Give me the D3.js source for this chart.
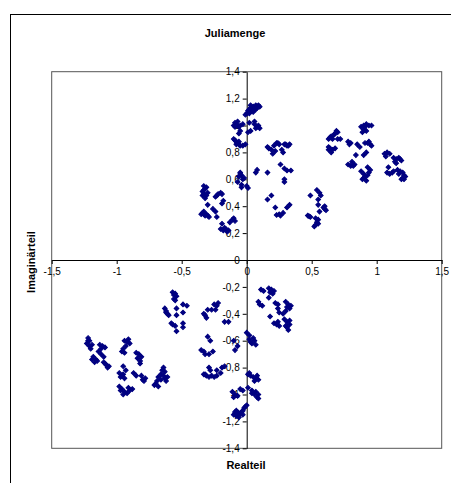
<!DOCTYPE html>
<html>
<head>
<meta charset="utf-8">
<script src="https://cdn.jsdelivr.net/npm/d3@7"></script>
<style>
  body { margin: 0; background: #fff; }
  text { font-family: 'Liberation Sans', Arial, sans-serif; }
</style>
</head>
<body>
<svg id="chart" width="451" height="483"></svg>
<script>
// Points, [Realteil, Imaginärteil]
var upperNearAxis = [
  [0.00,1.09],[0.01,1.11],[0.02,1.12],[0.03,1.13],[0.05,1.14],[0.07,1.15],[0.09,1.15],[0.04,1.11],[0.06,1.12],[0.08,1.13],[0.02,1.09],[0.05,1.10],[0.10,1.14],[-0.01,1.08],[0.03,1.15],[0.07,1.12],
  [-0.08,1.01],[-0.09,1.02],[-0.07,1.00],[-0.10,1.00],[-0.06,0.99],[-0.05,1.00],[-0.03,1.01],[-0.09,0.99],[-0.07,1.03],
  [0.02,1.02],[0.06,1.01],[0.08,0.99],[0.10,0.98],[0.09,1.00],[0.06,1.03],[0.07,0.98],
  [0.01,0.95],[0.03,0.96],[-0.06,0.94],[-0.05,0.96],
  [-0.09,0.89],[-0.08,0.88],[-0.07,0.87],[-0.06,0.86],[-0.05,0.85],[-0.03,0.85],[-0.01,0.86],[-0.08,0.86],[-0.10,0.90],[-0.06,0.88],
  [-0.05,0.64],[-0.04,0.63],[-0.06,0.62],[-0.03,0.60],[-0.07,0.58],[-0.04,0.56],[0.00,0.55],[-0.02,0.61],[-0.05,0.65],[0.01,0.535],[-0.04,0.54]
];
var upperLeft = [
  [-0.33,0.55],[-0.32,0.53],[-0.34,0.51],[-0.33,0.49],[-0.31,0.48],[-0.32,0.46],[-0.34,0.48],[-0.31,0.54],[-0.30,0.50],[-0.33,0.52],
  [-0.24,0.47],[-0.22,0.49],[-0.20,0.50],[-0.19,0.49],[-0.23,0.48],
  [-0.19,0.42],[-0.26,0.38],[-0.30,0.41],[-0.18,0.44],
  [-0.34,0.35],[-0.33,0.34],[-0.32,0.33],[-0.31,0.34],[-0.30,0.33],[-0.33,0.36],[-0.29,0.32],[-0.35,0.34],
  [-0.24,0.36],[-0.23,0.32],
  [-0.19,0.27],[-0.13,0.28],[-0.11,0.30],[-0.09,0.29],[-0.10,0.31],
  [-0.20,0.23],[-0.18,0.22],[-0.16,0.23],[-0.14,0.22],[-0.17,0.24],[-0.15,0.21]
];
var upperMiddle = [
  [0.24,0.87],[0.25,0.86],[0.29,0.86],[0.31,0.85],[0.30,0.86],[0.32,0.85],[0.33,0.86],[0.23,0.87],
  [0.17,0.83],[0.19,0.82],[0.20,0.79],[0.22,0.81],[0.27,0.82],[0.28,0.80],[0.21,0.85],[0.16,0.84],
  [0.07,0.65],[0.08,0.67],[0.16,0.65],
  [0.26,0.71],[0.29,0.68],[0.31,0.665],[0.34,0.665],[0.29,0.60],[0.29,0.58],
  [0.19,0.48],[0.16,0.45],[0.22,0.39],[0.23,0.335],[0.26,0.33],[0.28,0.35],[0.31,0.39],[0.33,0.41],[0.25,0.34]
];
var upperRight = [
  [0.49,0.48],[0.54,0.52],[0.57,0.48],[0.55,0.45],[0.55,0.41],[0.59,0.39],[0.60,0.38],[0.61,0.37],[0.60,0.40],[0.56,0.36],
  [0.47,0.33],[0.48,0.325],[0.49,0.32],[0.53,0.31],[0.55,0.30],[0.54,0.28],[0.53,0.26],[0.52,0.25],[0.55,0.27],[0.56,0.50],
  [0.69,0.96],[0.70,0.95],[0.68,0.94],[0.65,0.92],[0.64,0.91],[0.63,0.90],[0.66,0.90],[0.70,0.90],[0.72,0.90],[0.67,0.93],
  [0.63,0.84],[0.64,0.83],[0.66,0.82],[0.68,0.83],[0.65,0.80],[0.63,0.82],
  [0.88,0.99],[0.90,1.00],[0.92,1.01],[0.94,1.00],[0.96,1.00],[0.90,0.97],[0.92,0.96],[0.89,0.95],[0.91,0.99],
  [0.78,0.88],[0.80,0.87],[0.79,0.86],[0.85,0.86],[0.87,0.84],[0.91,0.87],[0.93,0.87],[0.95,0.86],[0.96,0.85],[0.94,0.88],
  [0.90,0.78],[0.92,0.80],[0.84,0.78],
  [0.78,0.71],[0.80,0.70],[0.82,0.70],[0.83,0.71],[0.81,0.73],
  [0.93,0.69],[0.88,0.66],[0.90,0.64],[0.91,0.62],[0.93,0.63],[0.94,0.65],[0.95,0.67],[0.89,0.60],[0.92,0.59],[0.90,0.61],
  [1.06,0.79],[1.08,0.80],[1.10,0.79],[1.07,0.77],[1.13,0.76],[1.15,0.75],[1.18,0.75],[1.19,0.74],[1.15,0.72],[1.14,0.73],[1.17,0.76],
  [1.09,0.69],[1.08,0.65],[1.10,0.64],[1.12,0.65],[1.13,0.66],
  [1.16,0.67],[1.18,0.66],[1.20,0.65],[1.21,0.63],[1.20,0.61],[1.19,0.60],[1.22,0.62],[1.17,0.64],[1.21,0.60]
];
var lowerNearAxis = [
  [-0.10,-1.15],[-0.08,-1.16],[-0.06,-1.15],[-0.04,-1.13],[-0.03,-1.12],[-0.02,-1.10],[-0.01,-1.09],[-0.07,-1.13],[-0.05,-1.14],[-0.09,-1.13],[-0.06,-1.17],[0.00,-1.08],[-0.08,-1.12],[-0.03,-1.15],
  [-0.11,-0.98],[-0.09,-1.00],[-0.07,-1.01],[-0.10,-1.02],[-0.05,-0.96],[-0.03,-0.97],
  [0.04,-0.99],[0.06,-1.00],[0.08,-1.02],[0.09,-1.00],[0.07,-0.98],[0.01,-0.95],[0.04,-0.97],[0.09,-1.03],
  [0.01,-0.85],[0.03,-0.86],[0.05,-0.87],[0.07,-0.88],[0.09,-0.89],[0.06,-0.90],[0.08,-0.86],[0.02,-0.84],
  [0.00,-0.54],[0.02,-0.56],[0.05,-0.58],[0.06,-0.60],[0.04,-0.62],[0.07,-0.63],[0.03,-0.61],[0.02,-0.59],
  [-0.07,-0.64],[-0.09,-0.67],[-0.10,-0.60]
];
var lowerMiddle = [
  [-0.25,-0.33],[-0.23,-0.34],[-0.22,-0.32],[-0.32,-0.41],[-0.30,-0.37],[-0.27,-0.37],[-0.24,-0.37],[-0.31,-0.43],[-0.33,-0.40],
  [-0.17,-0.46],[-0.14,-0.46],
  [-0.30,-0.57],[-0.28,-0.60],[-0.35,-0.67],[-0.33,-0.68],[-0.32,-0.70],[-0.29,-0.70],[-0.26,-0.68],
  [-0.29,-0.80],[-0.28,-0.82],[-0.33,-0.85],[-0.31,-0.86],[-0.29,-0.87],[-0.27,-0.86],[-0.25,-0.87],[-0.23,-0.86],[-0.23,-0.82],[-0.20,-0.84],[-0.19,-0.80],[-0.17,-0.79],[-0.32,-0.85]
];
var lowerLeft = [
  [-0.57,-0.24],[-0.55,-0.25],[-0.54,-0.27],[-0.55,-0.30],[-0.56,-0.29],[-0.56,-0.26],[-0.49,-0.33],[-0.46,-0.34],[-0.63,-0.36],[-0.62,-0.38],[-0.61,-0.40],[-0.60,-0.41],[-0.62,-0.39],[-0.54,-0.36],[-0.54,-0.41],[-0.49,-0.39],[-0.58,-0.47],[-0.55,-0.49],[-0.54,-0.53],[-0.49,-0.50],[-0.49,-0.47],[-0.57,-0.48],
  [-0.64,-0.80],[-0.63,-0.83],[-0.64,-0.86],[-0.66,-0.85],[-0.68,-0.87],[-0.66,-0.89],[-0.69,-0.90],[-0.70,-0.92],[-0.68,-0.94],[-0.71,-0.93],[-0.63,-0.88],[-0.61,-0.87],[-0.62,-0.90],[-0.65,-0.82],
  [-0.94,-0.60],[-0.92,-0.61],[-0.90,-0.62],[-0.93,-0.64],[-0.95,-0.66],[-0.96,-0.68],[-0.94,-0.69],[-0.91,-0.59],
  [-0.85,-0.69],[-0.83,-0.70],[-0.81,-0.72],[-0.82,-0.75],[-0.84,-0.73],[-0.82,-0.77],
  [-0.95,-0.79],[-0.93,-0.82],[-0.98,-0.84],[-0.96,-0.86],[-0.94,-0.88],[-0.97,-0.87],[-0.95,-0.85],[-0.87,-0.84],[-0.85,-0.86],[-0.81,-0.86],[-0.80,-0.89],[-0.78,-0.88],[-0.79,-0.90],
  [-0.98,-0.94],[-0.96,-0.96],[-0.94,-0.98],[-0.92,-0.99],[-0.90,-0.97],[-0.88,-0.96],[-0.95,-1.00],[-0.91,-0.95],[-0.97,-0.97],
  [-1.22,-0.58],[-1.21,-0.60],[-1.23,-0.62],[-1.21,-0.64],[-1.19,-0.63],[-1.20,-0.66],[-1.22,-0.60],[-1.13,-0.63],[-1.11,-0.64],[-1.09,-0.65],[-1.12,-0.66],[-1.14,-0.68],[-1.12,-0.70],[-1.10,-0.72],
  [-1.18,-0.72],[-1.16,-0.74],[-1.17,-0.76],[-1.15,-0.75],[-1.19,-0.74],[-1.10,-0.76],[-1.08,-0.78],[-1.06,-0.79],[-1.07,-0.80],[-1.09,-0.77]
];
var lowerRight = [
  [0.17,-0.21],[0.19,-0.22],[0.21,-0.23],[0.20,-0.25],[0.18,-0.24],[0.11,-0.22],[0.13,-0.23],[0.09,-0.31],[0.10,-0.33],[0.12,-0.34],[0.17,-0.28],
  [0.22,-0.32],[0.24,-0.33],[0.24,-0.36],[0.18,-0.42],[0.25,-0.39],[0.21,-0.47],[0.23,-0.48],[0.25,-0.49],[0.24,-0.46],
  [0.30,-0.31],[0.32,-0.33],[0.34,-0.34],[0.33,-0.36],[0.31,-0.35],[0.28,-0.40],[0.30,-0.38],[0.29,-0.44],[0.31,-0.46],[0.33,-0.48],[0.31,-0.50],[0.32,-0.52],[0.30,-0.49],[0.33,-0.45]
];

var xTicks = [-1.5, -1, -0.5, 0, 0.5, 1, 1.5];
var yTicks = [-1.4, -1.2, -1, -0.8, -0.6, -0.4, -0.2, 0, 0.2, 0.4, 0.6, 0.8, 1, 1.2, 1.4];

var svg = d3.select('#chart');
var plotLeft = 51.7, plotRight = 441.7, plotTop = 71.7, plotBottom = 448.3;

// comma as decimal separator, plain hyphen for minus (like Excel de)
var fmt = function(v) { return String(+v.toFixed(2)).replace('.', ','); };

// outer chart frame (runs off the right/bottom edge)
svg.append('rect')
  .attr('x', 10.5).attr('y', 14.5)
  .attr('width', 460).attr('height', 480)
  .attr('fill', '#fff')
  .attr('stroke', '#000');

var x = d3.scaleLinear().domain([-1.5, 1.5]).range([plotLeft, plotRight]);
var y = d3.scaleLinear().domain([-1.4, 1.4]).range([plotBottom, plotTop]);

// plot area border
svg.append('rect')
  .attr('x', plotLeft).attr('y', plotTop)
  .attr('width', plotRight - plotLeft).attr('height', plotBottom - plotTop)
  .attr('fill', 'none')
  .attr('stroke', '#555');

// axes through the origin
var xAxis = svg.append('g')
  .attr('transform', 'translate(0,' + y(0) + ')')
  .call(d3.axisBottom(x).tickValues(xTicks).tickFormat(fmt).tickSize(4).tickSizeOuter(0));
var yAxis = svg.append('g')
  .attr('transform', 'translate(' + x(0) + ',0)')
  .call(d3.axisLeft(y).tickValues(yTicks).tickFormat(fmt).tickSize(4).tickSizeOuter(0));

[xAxis, yAxis].forEach(function(a) {
  a.selectAll('text')
    .style('font-family', "'Liberation Sans', Arial, sans-serif")
    .style('font-size', '10px')
    .attr('fill', '#000');
  a.selectAll('line').attr('stroke', '#000');
  a.select('.domain').attr('stroke', '#000');
});
xAxis.selectAll('text').attr('y', 8);
yAxis.selectAll('text').attr('x', -7);

// points
var allPoints = [].concat(upperNearAxis, upperLeft, upperMiddle, upperRight,
                          lowerNearAxis, lowerMiddle, lowerLeft, lowerRight);
var marker = d3.symbol().type(d3.symbolSquare).size(11);

svg.append('g').selectAll('path')
  .data(allPoints)
  .enter()
  .append('path')
  .attr('d', marker)
  .attr('transform', function(d) { return 'translate(' + x(d[0]) + ',' + y(d[1]) + ') rotate(45)'; })
  .attr('fill', '#000080')
  .attr('stroke', '#000080')
  .attr('stroke-width', 1);

// titles
svg.append('text')
  .attr('x', 235).attr('y', 37)
  .attr('text-anchor', 'middle')
  .style('font-size', '11px')
  .style('font-weight', 'bold')
  .text('Juliamenge');

svg.append('text')
  .attr('x', 246).attr('y', 469)
  .attr('text-anchor', 'middle')
  .style('font-size', '11px')
  .style('font-weight', 'bold')
  .text('Realteil');

svg.append('text')
  .attr('transform', 'translate(35,262) rotate(-90)')
  .attr('text-anchor', 'middle')
  .style('font-size', '11px')
  .style('font-weight', 'bold')
  .text('Imaginärteil');
</script>
</body>
</html>
